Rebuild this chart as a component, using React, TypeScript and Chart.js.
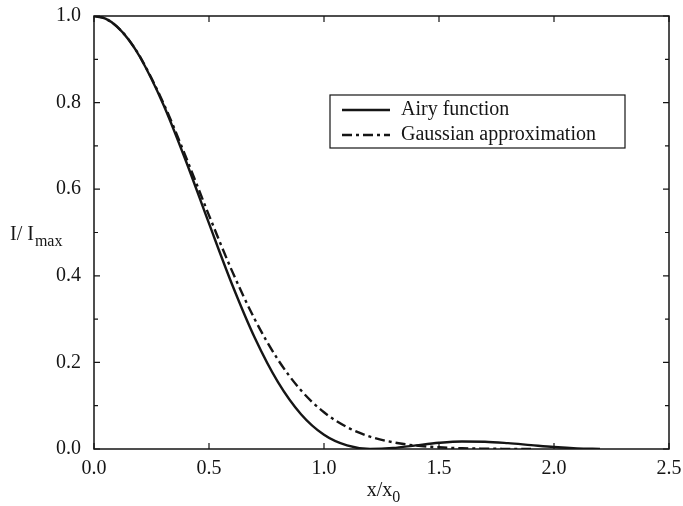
import React, { useEffect, useRef } from "react";
import { Chart, registerables } from "chart.js";

Chart.register(...registerables);

// ---- data ----
const airyX = [0, 0.05, 0.1, 0.15, 0.2, 0.3, 0.4, 0.5, 0.6, 0.7, 0.8, 0.9, 1.0, 1.1, 1.2, 1.3, 1.4, 1.5, 1.6, 1.7, 1.8, 1.9, 2.0, 2.1, 2.2];
const airyValues = [1.0, 0.9938, 0.9756, 0.9458, 0.9053, 0.7975, 0.6645, 0.5209, 0.3806, 0.2558, 0.1544, 0.0803, 0.0328, 0.0082, 0.0002, 0.0023, 0.0085, 0.0143, 0.0173, 0.0168, 0.0135, 0.009, 0.0046, 0.0015, 0.0001];
const gaussX = [0, 0.05, 0.1, 0.15, 0.2, 0.3, 0.4, 0.5, 0.6, 0.7, 0.8, 0.9, 1.0, 1.1, 1.2, 1.3, 1.4, 1.5, 1.6, 1.7, 1.8, 1.9];
const gaussValues = [1.0, 0.9939, 0.9756, 0.946, 0.906, 0.8009, 0.6738, 0.5396, 0.4114, 0.2985, 0.2062, 0.1355, 0.0848, 0.0505, 0.0286, 0.0155, 0.0079, 0.0039, 0.0018, 0.0008, 0.0003, 0.0001];
const xTickValues = [0, 0.5, 1.0, 1.5, 2.0, 2.5];
const yTickValues = [0, 0.2, 0.4, 0.6, 0.8, 1.0];
const yMinorTickValues = [0.1, 0.3, 0.5, 0.7, 0.9];
const seriesLabels = ["Airy function", "Gaussian approximation"];
const xTitleMain = "x/x";
const xTitleSub = "0";
const yTitleMain = "I/ I";
const yTitleSub = "max";

const FONT = '"Liberation Serif", "Times New Roman", serif';
const INK = "#151515";
const GAUSS_DASH = [10, 4, 3, 4];

const framePlugin = {
  id: "framePlugin",
  afterDraw(chart: any) {
    const { ctx, chartArea: a, scales } = chart;
    const xs = scales.x;
    const ys = scales.y;
    ctx.save();
    // frame
    ctx.strokeStyle = INK;
    ctx.lineWidth = 1.5;
    ctx.setLineDash([]);
    ctx.strokeRect(a.left, a.top, a.right - a.left, a.bottom - a.top);
    // inward ticks
    ctx.lineWidth = 1.2;
    ctx.beginPath();
    for (const v of xTickValues) {
      const px = xs.getPixelForValue(v);
      ctx.moveTo(px, a.bottom);
      ctx.lineTo(px, a.bottom - 6);
      ctx.moveTo(px, a.top);
      ctx.lineTo(px, a.top + 6);
    }
    for (const v of yTickValues) {
      const py = ys.getPixelForValue(v);
      ctx.moveTo(a.left, py);
      ctx.lineTo(a.left + 6, py);
      ctx.moveTo(a.right, py);
      ctx.lineTo(a.right - 6, py);
    }
    for (const v of yMinorTickValues) {
      const py = ys.getPixelForValue(v);
      ctx.moveTo(a.left, py);
      ctx.lineTo(a.left + 4, py);
      ctx.moveTo(a.right, py);
      ctx.lineTo(a.right - 4, py);
    }
    ctx.stroke();

    // legend box
    const bx = a.left + 236;
    const by = a.top + 79;
    const bw = 295;
    const bh = 53;
    ctx.lineWidth = 1.2;
    ctx.strokeRect(bx, by, bw, bh);
    const datasets = chart.data.datasets;
    ctx.font = `20px ${FONT}`;
    ctx.fillStyle = INK;
    ctx.textBaseline = "middle";
    ctx.textAlign = "left";
    datasets.forEach((ds: any, i: number) => {
      const rowY = by + 15 + i * 25;
      ctx.strokeStyle = ds.borderColor;
      ctx.lineWidth = ds.borderWidth;
      ctx.setLineDash(ds.borderDash || []);
      ctx.beginPath();
      ctx.moveTo(bx + 12, rowY);
      ctx.lineTo(bx + 60, rowY);
      ctx.stroke();
      ctx.setLineDash([]);
      ctx.fillText(ds.label, bx + 71, rowY);
    });

    // axis titles with subscripts
    ctx.textBaseline = "alphabetic";
    ctx.fillStyle = INK;
    ctx.font = `20px ${FONT}`;
    const yMainW = ctx.measureText(yTitleMain).width;
    ctx.fillText(yTitleMain, 10, 240);
    ctx.font = `16px ${FONT}`;
    ctx.fillText(yTitleSub, 10 + yMainW + 1, 246);

    ctx.font = `20px ${FONT}`;
    const xMainW = ctx.measureText(xTitleMain).width;
    ctx.font = `16px ${FONT}`;
    const xSubW = ctx.measureText(xTitleSub).width;
    const cx = (a.left + a.right) / 2 + 2;
    const start = cx - (xMainW + xSubW) / 2;
    ctx.font = `20px ${FONT}`;
    ctx.fillText(xTitleMain, start, 496);
    ctx.font = `16px ${FONT}`;
    ctx.fillText(xTitleSub, start + xMainW, 502);
    ctx.restore();
  },
};

export default function App() {
  const canvasRef = useRef<HTMLCanvasElement | null>(null);

  useEffect(() => {
    const canvas = canvasRef.current;
    if (!canvas) return;
    const chart = new Chart(canvas, {
      type: "line",
      data: {
        datasets: [
          {
            label: seriesLabels[0],
            data: airyX.map((x, i) => ({ x, y: airyValues[i] })),
            borderColor: INK,
            borderWidth: 2.4,
            pointRadius: 0,
            fill: false,
            cubicInterpolationMode: "monotone",
          },
          {
            label: seriesLabels[1],
            data: gaussX.map((x, i) => ({ x, y: gaussValues[i] })),
            borderColor: INK,
            borderWidth: 2.4,
            borderDash: GAUSS_DASH,
            pointRadius: 0,
            fill: false,
            cubicInterpolationMode: "monotone",
          },
        ],
      },
      options: {
        responsive: false,
        animation: false,
        events: [],
        layout: { padding: { top: 16, right: 14, left: 0, bottom: 0 } },
        plugins: {
          legend: { display: false },
          tooltip: { enabled: false },
        },
        scales: {
          x: {
            type: "linear",
            min: 0,
            max: 2.5,
            border: { display: false },
            grid: { display: false, drawTicks: false },
            ticks: {
              stepSize: 0.5,
              autoSkip: false,
              maxRotation: 0,
              padding: 8,
              color: INK,
              font: { family: FONT, size: 20 },
              callback: (v: any) => Number(v).toFixed(1),
            },
            afterFit: (s: any) => {
              s.height = 57;
              s.paddingLeft = 0;
              s.paddingRight = 0;
            },
          },
          y: {
            type: "linear",
            min: 0,
            max: 1,
            border: { display: false },
            grid: { display: false, drawTicks: false },
            ticks: {
              stepSize: 0.2,
              padding: 13,
              color: INK,
              font: { family: FONT, size: 20 },
              callback: (v: any) => Number(v).toFixed(1),
            },
            afterFit: (s: any) => {
              s.width = 94;
              s.paddingTop = 0;
              s.paddingBottom = 0;
            },
          },
        },
      },
      plugins: [framePlugin],
    });
    return () => chart.destroy();
  }, []);

  return (
    <div style={{ position: "fixed", left: 0, top: 0, width: 683, height: 506, background: "#fff" }}>
      <canvas ref={canvasRef} width={683} height={506} style={{ width: 683, height: 506 }} />
    </div>
  );
}
